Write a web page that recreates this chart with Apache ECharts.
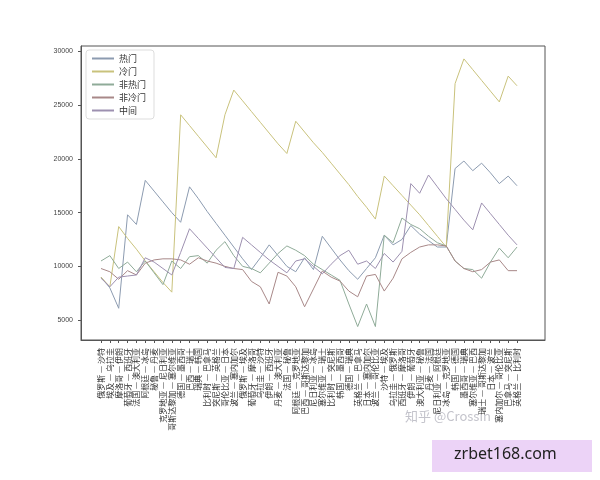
<!DOCTYPE html>
<html><head><meta charset="utf-8">
<script src="https://cdn.jsdelivr.net/npm/echarts@6/dist/echarts.min.js"></script>
<style>html,body{margin:0;background:#fff}#c{width:600px;height:480px}</style>
</head><body><div id="c"></div>
<script>
const categories = ["俄罗斯 — 沙特","埃及 — 乌拉圭","摩洛哥 — 伊朗","葡萄牙 — 西班牙","法国 — 澳大利亚","阿根廷 — 冰岛","秘鲁 — 丹麦","克罗地亚 — 尼日利亚","哥斯达黎加 — 塞尔维亚","德国 — 墨西哥","巴西 — 瑞士","瑞典 — 韩国","比利时 — 巴拿马","突尼斯 — 英格兰","哥伦比亚 — 日本","波兰 — 塞内加尔","俄罗斯 — 埃及","葡萄牙 — 摩洛哥","乌拉圭 — 沙特","伊朗 — 西班牙","丹麦 — 澳大利亚","法国 — 秘鲁","阿根廷 — 克罗地亚","巴西 — 哥斯达黎加","尼日利亚 — 冰岛","塞尔维亚 — 瑞士","比利时 — 突尼斯","韩国 — 墨西哥","德国 — 瑞典","英格兰 — 巴拿马","日本 — 塞内加尔","波兰 — 哥伦比亚","沙特 — 埃及","乌拉圭 — 俄罗斯","西班牙 — 摩洛哥","伊朗 — 葡萄牙","澳大利亚 — 秘鲁","丹麦 — 法国","尼日利亚 — 阿根廷","冰岛 — 克罗地亚","韩国 — 德国","墨西哥 — 瑞典","塞尔维亚 — 巴西","瑞士 — 哥斯达黎加","日本 — 波兰","塞内加尔 — 哥伦比亚","巴拿马 — 突尼斯","英格兰 — 比利时"];
const seriesNames = ["热门","冷门","非热门","非冷门","中间"];
const hot = [9000,8000,6100,14800,13900,18000,17000,16000,15000,14100,17400,16300,15100,14000,12900,11800,10700,9700,10800,12000,11000,10000,9500,10800,9700,12800,11700,10600,9600,8800,9800,10800,12900,12000,12500,13800,13000,12400,11800,11800,19100,19800,18900,19600,18700,17700,18400,17500];
const cold = [9000,8100,13700,12600,11600,10500,9500,8500,7600,24100,23100,22100,21100,20100,24100,26400,25400,24400,23400,22400,21400,20500,23500,22500,21500,20600,19600,18600,17600,16500,15500,14400,18400,17500,16600,15700,14800,13800,12800,11800,27000,29300,28300,27300,26300,25300,27700,26800];
const nonHot = [10500,11000,9800,10400,9500,10500,9400,8300,10500,9800,10900,11000,10300,11500,12300,11000,10000,9800,9400,10300,11200,11900,11500,11000,10200,9700,9200,8700,6500,4400,6500,4400,12900,12200,14500,13900,13500,12800,12200,11900,10500,9800,9700,8900,10400,11700,10800,11800];
const nonCold = [9800,9500,8800,9600,9200,10300,10600,10700,10700,10600,10200,10800,10500,10300,10000,9800,9700,8600,8100,6500,9450,9100,8100,6240,7900,9560,9000,8630,7700,7170,9100,9250,7700,8900,10700,11300,11800,12000,12000,11900,10500,9800,9500,9700,10400,10600,9600,9600];
const middle = [8900,8100,9000,9100,9200,10800,10400,9800,9200,11300,13500,12600,11700,10800,9900,9800,12700,12000,11300,10600,10000,9400,10500,10700,10000,9300,10200,11000,11500,10200,10500,9800,11200,10400,11400,17700,16800,18500,17400,16300,15300,14300,13400,15900,14900,13900,12900,12000];
const yTicks = [5000,10000,15000,20000,25000,30000];

const allData=[hot,cold,nonHot,nonCold,middle];
const colors=['#8c9bb0','#c9c27c','#8fab98','#a88888','#9d90b0'];
const idx=categories.map((_,i)=>i);
const chart=echarts.init(document.getElementById('c'));
chart.setOption({
  animation:false,
  grid:{left:81,right:55,top:46,bottom:140,show:true,borderColor:'#555',borderWidth:1},
  legend:{left:86,top:50,orient:'vertical',itemWidth:22,itemHeight:2,itemGap:4,icon:'rect',
    backgroundColor:'#fff',borderColor:'#ddd',borderWidth:1,borderRadius:3,padding:[4,8,4,6],
    textStyle:{fontSize:9,color:'#333',fontFamily:'Noto Sans CJK SC'},data:seriesNames},
  xAxis:{type:'value',min:-2.26,max:50.16,splitLine:{show:false},
    axisLine:{onZero:false,lineStyle:{color:'#555'}},
    axisTick:{customValues:idx,length:3,lineStyle:{color:'#555'}},
    axisLabel:{customValues:idx,rotate:90,fontSize:8,color:'#333',fontFamily:'Noto Sans CJK SC',
      formatter:v=>categories[Math.round(v)]}},
  yAxis:{type:'value',min:3150,max:30500,splitLine:{show:false},
    axisLine:{show:true,onZero:false,lineStyle:{color:'#555'}},
    axisTick:{show:true,customValues:yTicks,length:3,lineStyle:{color:'#555'}},
    axisLabel:{customValues:yTicks,fontSize:7,color:'#444',formatter:v=>String(v)}},
  series:seriesNames.map((n,k)=>({name:n,type:'line',showSymbol:false,symbol:'none',
    data:allData[k].map((v,i)=>[i,v]),lineStyle:{width:1,color:colors[k]},itemStyle:{color:colors[k]}})),
  graphic:[
    {type:'text',left:405,top:410,style:{text:'知乎 @Crossin',fontSize:13,fill:'rgba(180,180,190,0.8)',fontFamily:'Noto Sans CJK SC'}},
    {type:'rect',shape:{x:432,y:440,width:160,height:32},style:{fill:'#ecd3f7'}},
    {type:'text',left:454,top:446,style:{text:'zrbet168.com',fontSize:16,fill:'#222',fontFamily:'Noto Sans'}}
  ]
});
</script></body></html>
